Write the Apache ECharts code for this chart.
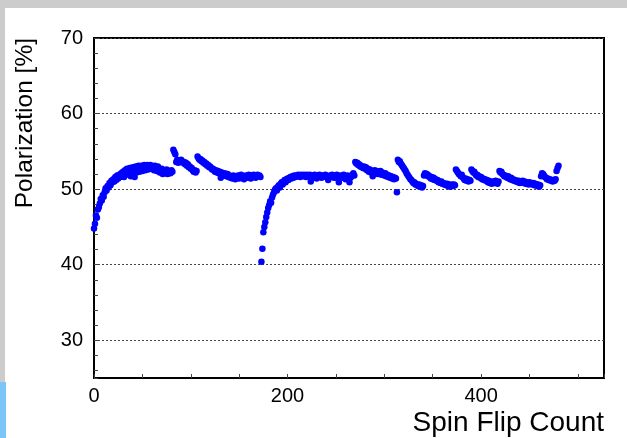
<!DOCTYPE html>
<html>
<head>
<meta charset="utf-8">
<script src="https://cdn.jsdelivr.net/npm/echarts@6/dist/echarts.min.js"></script>
<style>
  html, body { margin: 0; padding: 0; background: #ffffff; }
  #chart { width: 627px; height: 438px; }
</style>
</head>
<body>
<div id="chart"></div>
<script>
// Measured polarization [%] for each spin flip, grouped by run.
// Runs follow one another, so the flip count is the running index.
const runA = [
  44.8, 45.4, 46.5, 46.2, 47.3, 47.6, 48.1, 48.7, 48.5, 49.2,
  49.0, 49.6, 50.1, 49.8, 50.4, 50.2, 50.8, 50.5, 51.1, 50.9,
  51.3, 51.0, 51.6, 51.2, 51.8, 51.4, 51.9, 51.6, 52.1, 51.7,
  52.3, 51.6, 52.5, 51.9, 52.7, 52.0, 52.4, 52.8, 51.7, 52.5,
  52.9, 52.1, 51.6, 53.0, 52.2, 52.7, 53.1, 52.3, 52.8, 53.1,
  52.4, 52.9, 53.2, 52.5, 53.0, 53.2, 52.6, 53.0, 53.2, 52.7,
  53.1, 52.9, 52.5, 53.1, 52.8, 52.4, 53.0, 52.6, 52.2, 52.3,
  52.7, 52.0, 52.5, 52.1, 52.4, 52.6, 52.0, 52.4, 52.2, 52.1,
  52.5, 52.3
];
const runB = [
  55.2, 54.9, 54.6, 53.6, 53.9, 53.5, 53.8, 53.6, 53.9, 53.7,
  53.5, 53.6, 53.3, 53.5, 53.1, 53.3, 52.9, 53.0, 52.7, 52.8,
  52.5, 52.3, 52.5, 52.2, 52.4
];
const runC = [
  54.3, 54.1, 53.9, 54.0, 53.7, 53.8, 53.5, 53.6, 53.3, 53.4,
  53.1, 53.2, 52.9, 53.0, 52.8, 52.6, 52.7, 52.5, 52.3, 52.5,
  52.2, 52.4, 52.1, 52.3, 51.5, 52.2, 52.0, 51.8, 52.1, 51.9,
  51.7, 52.0, 51.6, 51.8, 51.5, 51.7, 51.4, 51.8, 51.6, 51.3,
  51.7, 51.5, 51.8, 51.4, 51.6, 51.9, 51.5, 51.7, 51.3, 51.6,
  51.8, 51.5, 51.7, 51.9, 51.6, 51.4, 51.8, 51.6, 51.9, 51.7,
  51.5, 51.8, 51.9, 51.7, 51.8, 51.6
];
const runD = [
  40.4, 42.1, 44.3, 45.0, 45.6, 46.3, 46.9, 47.5, 47.9, 48.4,
  48.2, 48.9, 49.3, 49.6, 49.9, 50.1, 49.8, 50.3, 50.5, 50.2,
  50.7, 50.9, 50.6, 51.0, 51.2, 50.9, 51.3, 51.4, 51.2, 51.5,
  51.6, 51.4, 51.7, 51.5, 51.8, 51.6, 51.8, 51.7, 51.9, 51.8,
  51.6, 51.9, 51.8, 51.7, 51.9, 51.8, 51.6, 51.9, 51.8, 51.7,
  51.9, 51.0, 51.5, 51.8, 51.6, 51.9, 51.7, 51.4, 51.8, 51.6,
  51.9, 51.7, 51.5, 51.8, 51.6, 51.7, 51.9, 51.8, 51.6, 51.2,
  51.7, 51.8, 51.6, 51.9, 51.7, 51.5, 51.8, 51.6, 51.9, 51.4,
  50.9, 51.6, 51.8, 51.7, 51.5, 51.9, 51.7, 51.3, 51.6, 51.8,
  51.4, 50.9, 51.5, 51.7, 51.9, 52.1, 51.8
];
const runE = [
  53.6, 53.4, 53.5, 53.2, 53.3, 53.0, 53.1, 52.9, 52.8, 53.0,
  52.7, 52.9, 52.5, 52.7, 52.3, 52.6, 52.2, 52.4, 51.7, 52.3,
  52.5, 52.2, 52.4, 52.0, 52.3, 52.1, 52.4, 51.9, 52.2, 52.0,
  51.8, 52.1, 51.7, 51.9, 51.6, 51.8, 51.5, 51.7, 51.4, 51.6,
  51.3, 51.5, 51.4, 49.6
];
const runF = [
  53.9, 53.6, 53.7, 53.4, 53.2, 53.0, 52.8, 52.6, 52.4, 52.1,
  51.9, 51.7, 51.5, 51.3, 51.2, 51.0, 50.8, 50.9, 50.6, 50.7,
  50.5, 50.4, 50.6, 50.3, 50.5, 50.2, 50.4
];
const runG = [
  51.8, 52.1, 51.9, 52.0, 51.7, 51.8, 51.6, 51.4, 51.6, 51.3,
  51.5, 51.2, 51.3, 51.1, 51.2, 50.9, 51.0, 50.8, 51.0, 50.7,
  50.8, 50.6, 50.7, 50.5, 50.7, 50.4, 50.6, 50.3, 50.5, 50.6,
  50.4, 50.6, 50.5
];
const runH = [
  52.6, 52.4, 52.2, 52.0, 51.9, 51.7, 51.9, 51.6, 51.4, 51.2,
  51.4, 51.1, 51.3, 51.0, 51.2, 51.1
];
const runI = [
  52.6, 52.4, 52.2, 52.3, 52.0, 51.8, 51.9, 51.6, 51.7, 51.5,
  51.6, 51.3, 51.4, 51.2, 51.3, 51.1, 51.2, 50.9, 51.1, 50.8,
  51.0, 50.7, 50.9, 51.0, 50.8, 51.1, 50.9, 50.7, 51.0
];
const runJ = [
  52.4, 52.2, 52.3, 52.0, 51.9, 51.7, 51.8, 51.6, 51.5, 51.7,
  51.4, 51.3, 51.5, 51.2, 51.3, 51.1, 51.2, 51.0, 51.1, 50.9,
  51.1, 50.8, 51.0, 50.9, 51.1, 50.8, 51.0, 50.7, 50.9, 50.8,
  50.6, 50.9, 50.7, 50.8, 50.6, 50.8, 50.5, 50.7, 50.6, 50.4,
  50.6, 50.3, 50.5
];
const runK = [
  51.7, 52.1, 52.0, 51.8, 51.6, 51.5, 51.3, 51.4, 51.2, 51.3,
  51.1, 51.2, 51.0, 51.2, 51.1, 51.3, 52.4, 52.8, 53.1
];

const runs = [runA, runB, runC, runD, runE, runF, runG, runH, runI, runJ, runK];
const polarization = [].concat(...runs);

const xTickLabels = [0, 200, 400];
const yTickLabels = [30, 40, 50, 60, 70];
const xRange = [0, 527];
const yRange = [25, 70];

const points = polarization.map((v, count) => [count, v]);

const labelFont = 'Liberation Sans, Arial, sans-serif';

const chart = echarts.init(document.getElementById('chart'), null, { renderer: 'canvas' });

chart.setOption({
  animation: false,
  backgroundColor: '#ffffff',
  grid: {
    left: 94, right: 23, top: 38, bottom: 60,
    show: true, borderColor: '#000000', borderWidth: 2, backgroundColor: 'transparent'
  },
  xAxis: {
    type: 'value',
    min: xRange[0], max: xRange[1], interval: 50,
    axisLine: { show: true, lineStyle: { color: '#000000', width: 2 } },
    axisTick: { show: true, inside: true, length: 4, lineStyle: { color: '#444444', width: 1 } },
    axisLabel: {
      margin: 8, fontSize: 20, color: '#000000', fontFamily: labelFont,
      formatter: v => (xTickLabels.includes(v) ? String(v) : '')
    },
    splitLine: { show: false }
  },
  yAxis: [
    {
      type: 'value',
      min: yRange[0], max: yRange[1], splitNumber: 5,
      axisLine: { show: true, lineStyle: { color: '#000000', width: 2 } },
      axisTick: { show: false },
      axisLabel: {
        margin: 11, fontSize: 20, color: '#000000', fontFamily: labelFont,
        formatter: v => (yTickLabels.includes(v) ? String(v) : '')
      },
      splitLine: { show: true, lineStyle: { color: '#444444', width: 1, type: [2, 2] } }
    },
    {
      // fine tick marks every 2 %
      type: 'value',
      min: yRange[0], max: yRange[1], splitNumber: 22,
      position: 'left',
      axisLine: { show: false },
      axisTick: { show: true, inside: true, length: 4, lineStyle: { color: '#444444', width: 1 } },
      axisLabel: { show: false },
      splitLine: { show: false }
    }
  ],
  series: [{
    type: 'scatter',
    yAxisIndex: 0,
    symbol: 'circle',
    symbolSize: 6.5,
    itemStyle: { color: '#0000ff', opacity: 1 },
    data: points,
    z: 5
  }],
  graphic: [
    { type: 'rect', left: 0, top: 0, shape: { width: 627, height: 8 }, style: { fill: '#cccccc' }, silent: true },
    { type: 'rect', left: 0, top: 8, shape: { width: 5, height: 374 }, style: { fill: '#cccccc' }, silent: true },
    { type: 'rect', left: 0, top: 382, shape: { width: 6, height: 56 }, style: { fill: '#7cc6f7' }, silent: true },
    {
      type: 'text', x: 25, y: 38, rotation: Math.PI / 2,
      style: {
        text: 'Polarization [%]', fill: '#000000',
        font: '24.5px Liberation Sans, Arial, sans-serif',
        textAlign: 'right', textVerticalAlign: 'middle'
      }
    },
    {
      type: 'text', x: 604, y: 423,
      style: {
        text: 'Spin Flip Count', fill: '#000000',
        font: '28px Liberation Sans, Arial, sans-serif',
        textAlign: 'right', textVerticalAlign: 'middle'
      }
    }
  ]
});
</script>
</body>
</html>
